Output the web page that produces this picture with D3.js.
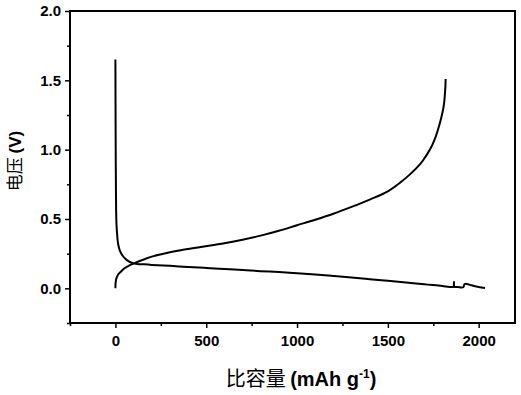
<!DOCTYPE html>
<html>
<head>
<meta charset="utf-8">
<script src="https://cdn.jsdelivr.net/npm/d3@7"></script>
<style>
  body { margin: 0; background: #fff; }
  .tick text { font-family: "Liberation Sans", Arial, sans-serif; font-weight: bold; font-size: 15px; }
</style>
</head>
<body>
<script>
var xTicks, yTicks, discharge, charge, svg, x, y, line, margin, W, H;

W = 521;
H = 395;
margin = { left: 70, top: 11, right: 6, bottom: 72 };

xTicks = [0, 500, 1000, 1500, 2000];
yTicks = [0.0, 0.5, 1.0, 1.5, 2.0];

// discharge curve: [capacity, voltage]
discharge = [
  [0, 1.65], [1, 1.2], [2, 0.9], [3, 0.7], [4, 0.56], [6, 0.46], [10, 0.38],
  [15, 0.32], [25, 0.27], [40, 0.235], [60, 0.207], [80, 0.19], [100, 0.18],
  [130, 0.174], [160, 0.173], [200, 0.169], [300, 0.162], [400, 0.154],
  [500, 0.147], [600, 0.14], [700, 0.132], [800, 0.124], [900, 0.117],
  [1000, 0.108], [1100, 0.099], [1200, 0.089], [1300, 0.078], [1400, 0.066],
  [1500, 0.054], [1600, 0.042], [1700, 0.03], [1800, 0.016], [1858, 0.01],
  [1862, 0.012], [1864, 0.045], [1866, 0.012], [1885, 0.01], [1915, 0.008],
  [1922, 0.03], [1935, 0.032], [1960, 0.022], [2000, 0.01], [2035, 0.003]
];

// charge curve
charge = [
  [0, 0.0], [1, 0.04], [5, 0.07], [15, 0.1], [30, 0.12], [50, 0.145],
  [80, 0.168], [120, 0.19], [160, 0.21], [210, 0.232], [300, 0.26],
  [360, 0.275], [470, 0.298], [600, 0.325], [700, 0.35], [800, 0.38],
  [900, 0.415], [1000, 0.455], [1100, 0.495], [1200, 0.538], [1300, 0.587],
  [1400, 0.64], [1500, 0.7], [1570, 0.765], [1620, 0.82], [1680, 0.9],
  [1700, 0.935], [1720, 0.975], [1745, 1.035], [1765, 1.1], [1782, 1.17],
  [1795, 1.235], [1804, 1.29], [1810, 1.34], [1814, 1.4], [1817, 1.46], [1818, 1.51]
];

svg = d3.select('body').append('svg')
  .attr('width', W)
  .attr('height', H);

x = d3.scaleLinear()
  .domain([-250, 2200])
  .range([margin.left, W - margin.right]);

y = d3.scaleLinear()
  .domain([-0.25, 2.0])
  .range([H - margin.bottom, margin.top]);

// frame
svg.append('rect')
  .attr('x', x.range()[0])
  .attr('y', y.range()[1])
  .attr('width', x.range()[1] - x.range()[0])
  .attr('height', y.range()[0] - y.range()[1])
  .attr('fill', 'none')
  .attr('stroke', '#000')
  .attr('stroke-width', 2);

// minor ticks
svg.append('g')
  .attr('transform', 'translate(0,' + y.range()[0] + ')')
  .call(d3.axisBottom(x).tickValues([-250, 250, 750, 1250, 1750]).tickSize(3).tickFormat(''))
  .call(function(g) { g.select('.domain').remove(); })
  .selectAll('line').attr('stroke-width', 1.5);

svg.append('g')
  .attr('transform', 'translate(' + x.range()[0] + ',0)')
  .call(d3.axisLeft(y).tickValues([-0.25, 0.25, 0.75, 1.25, 1.75]).tickSize(3).tickFormat(''))
  .call(function(g) { g.select('.domain').remove(); })
  .selectAll('line').attr('stroke-width', 1.5);

// major ticks
svg.append('g')
  .attr('transform', 'translate(0,' + y.range()[0] + ')')
  .call(d3.axisBottom(x).tickValues(xTicks).tickSize(5).tickPadding(7).tickFormat(d3.format('d')))
  .call(function(g) { g.select('.domain').remove(); })
  .call(function(g) { g.selectAll('line').attr('stroke-width', 1.5); g.selectAll('text').attr('fill', '#000'); });

svg.append('g')
  .attr('transform', 'translate(' + x.range()[0] + ',0)')
  .call(d3.axisLeft(y).tickValues(yTicks).tickSize(5).tickPadding(4).tickFormat(d3.format('.1f')))
  .call(function(g) { g.select('.domain').remove(); })
  .call(function(g) { g.selectAll('line').attr('stroke-width', 1.5); g.selectAll('text').attr('fill', '#000'); });

line = d3.line()
  .x(function(d) { return x(d[0]); })
  .y(function(d) { return y(d[1]); })
  .curve(d3.curveCatmullRom.alpha(0.5));

[discharge, charge].forEach(function(series) {
  svg.append('path')
    .datum(series)
    .attr('d', line)
    .attr('fill', 'none')
    .attr('stroke', '#000')
    .attr('stroke-width', 2)
    .attr('stroke-linejoin', 'round');
});

// axis titles
var xt = svg.append('text')
  .attr('x', 301)
  .attr('y', 386)
  .attr('text-anchor', 'middle')
  .attr('font-size', 20)
  .attr('fill', '#000');
xt.append('tspan').attr('font-family', '"Noto Sans CJK SC", sans-serif').text('比容量 ');
xt.append('tspan').attr('font-family', '"Liberation Sans", Arial, sans-serif').attr('font-weight', 'bold').text('(mAh g');
xt.append('tspan').attr('font-family', '"Liberation Sans", Arial, sans-serif').attr('font-weight', 'bold')
  .attr('font-size', 12).attr('dy', -8).text('-1');
xt.append('tspan').attr('font-family', '"Liberation Sans", Arial, sans-serif').attr('font-weight', 'bold')
  .attr('dy', 8).text(')');

var yt = svg.append('text')
  .attr('transform', 'translate(21,161) rotate(-90)')
  .attr('text-anchor', 'middle')
  .attr('font-size', 17)
  .attr('fill', '#000');
yt.append('tspan').attr('font-family', '"Noto Sans CJK SC", sans-serif').text('电压 ');
yt.append('tspan').attr('font-family', '"Liberation Sans", Arial, sans-serif').attr('font-weight', 'bold').text('(V)');
</script>
</body>
</html>
